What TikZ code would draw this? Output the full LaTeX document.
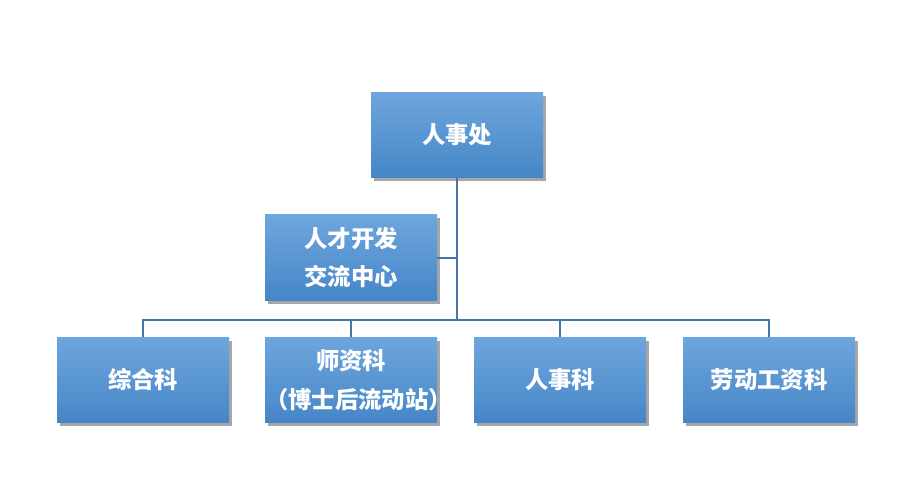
\documentclass[tikz,border=0pt]{standalone}
\usepackage{fontspec}
\usepackage{tikz}
\usetikzlibrary{shadows}
\newfontfamily\cjk{Noto Sans CJK SC}
\definecolor{boxtop}{RGB}{110,166,221}
\definecolor{boxbot}{RGB}{70,134,199}
\definecolor{linkblue}{RGB}{68,118,168}
\begin{document}
\begin{tikzpicture}[x=0.75pt,y=-0.75pt,
  unit/.style={rectangle,text width=129pt,minimum height=64pt,inner sep=0pt,
    top color=boxtop,bottom color=boxbot,text=white,align=center,
    font=\cjk\bfseries\fontsize{17.5}{29}\selectfont,
    drop shadow={shadow xshift=2pt,shadow yshift=-2.5pt,fill=black,opacity=0.35}},
  link/.style={draw=linkblue,line width=1.5pt}]
\useasboundingbox (0,0) rectangle (908,500);
\coordinate (bus) at (457,320);
% boxes
\node[unit] (hr) at (457,135){人事处};
\node[unit] (talent) at (351,257.5){人才开发\\交流中心};
\node[unit] (general) at (143,380){综合科};
\node[unit] (teacher) at (351,380){师资科\\（博士后流动站）};
\node[unit] (staff) at (560,380){人事科};
\node[unit] (labour) at (769,380){劳动工资科};
% links
\draw[link] (hr.south) -- (bus);
\draw[link] (talent.east) -- (talent.east -| bus);
\draw[link] (general.north) |- (labour.north |- bus) -- (labour.north);
\draw[link] (teacher.north) -- (teacher.north |- bus);
\draw[link] (staff.north) -- (staff.north |- bus);
\end{tikzpicture}
\end{document}
